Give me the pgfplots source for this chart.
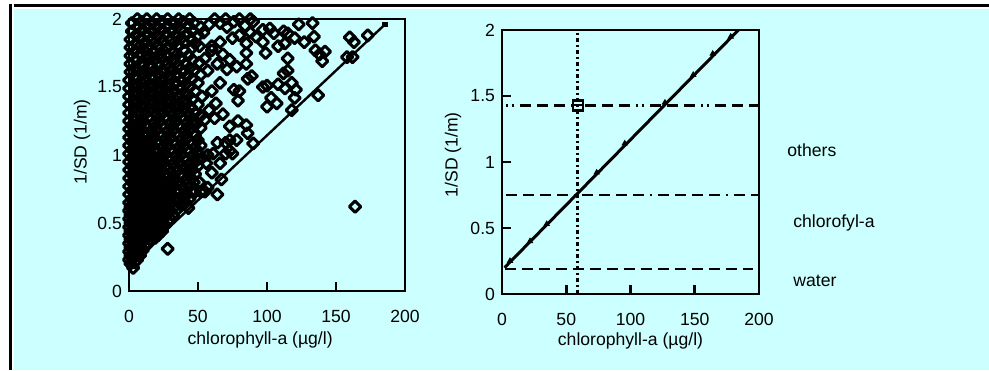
\documentclass[border=0pt]{standalone}
\usepackage{pgfplots}
\pgfplotsset{compat=1.18}
\usepackage{fontspec}
\setmainfont{Liberation Sans}
\definecolor{bgc}{RGB}{204,255,255}
\pgfplotsset{
  myaxis/.style={
    scale only axis, anchor=south west,
    xmin=0, xmax=200, ymin=0, ymax=2,
    xtick={0,50,100,150,200}, xticklabels={0,50,100,150,200},
    ytick={0,0.5,1,1.5,2}, yticklabels={0,0.5,1,1.5,2},
    xtick pos=bottom, ytick pos=left, tick align=inside,
    major tick length=4.5pt,
    axis line style={line width=1.3pt},
    tick style={line width=1.3pt, black},
    xticklabel style={yshift=-6pt, font=\fontsize{8.8}{10}\selectfont},
    yticklabel style={font=\fontsize{8.8}{10}\selectfont},
    label style={font=\fontsize{8.8}{10}\selectfont},
    xlabel={chlorophyll-a (µg/l)},
    ylabel={1/SD (1/m)},
  }
}
\begin{document}
\begin{tikzpicture}[font=\fontsize{8.8}{10}\selectfont]
\useasboundingbox (0,0) rectangle (494.5pt,185pt);
\fill[white] (0,0) rectangle (494.5pt,185pt);
\fill[bgc] (7pt,0) rectangle (494.5pt,180.5pt);
\fill[black] (4.5pt,0) rectangle (6pt,183pt);
\fill[black] (7pt,181.5pt) rectangle (494.5pt,183pt);

\begin{axis}[myaxis, at={(64.5pt,39.5pt)}, width=138pt, height=136pt,
  xlabel style={at={(axis description cs:0.475,-0.18)}, anchor=center},
  ylabel style={at={(axis description cs:-0.17,0.548)}, anchor=center}]
\addplot[only marks, mark=square, mark size=2pt,
  mark options={rotate=45, line width=1.5pt, black, line join=round}] coordinates {
(3,0.17) (1,0.20) (4,0.21)
(0,0.23) (3,0.24) (6,0.23)
(1,0.26) (5,0.27) (8,0.26)
(0,0.29) (3,0.30) (6,0.29) (10,0.30)
(1,0.32) (5,0.33) (8,0.32) (12,0.33) (28,0.31)
(0,0.35) (3,0.36) (7,0.35) (10,0.36) (14,0.35)
(1,0.38) (5,0.39) (8,0.38) (12,0.39) (16,0.38) (19,0.39)
(0,0.41) (3,0.42) (7,0.41) (10,0.42) (14,0.41) (18,0.42) (21,0.41)
(1,0.44) (5,0.45) (9,0.44) (12,0.45) (16,0.44) (20,0.45) (24,0.44)
(0,0.47) (3,0.48) (7,0.47) (11,0.48) (14,0.47) (18,0.48) (22,0.47) (26,0.48)
(1,0.50) (5,0.51) (9,0.50) (13,0.51) (16,0.50) (20,0.51) (24,0.50) (28,0.51)
(0,0.53) (3,0.54) (7,0.53) (11,0.54) (15,0.53) (18,0.54) (22,0.53) (26,0.54) (30,0.53)
(1,0.56) (5,0.57) (9,0.56) (13,0.57) (17,0.56) (20,0.57) (24,0.56) (28,0.57) (32,0.56)
(0,0.59) (3,0.60) (7,0.59) (11,0.60) (15,0.59) (19,0.60) (22,0.59) (26,0.60) (30,0.59) (35,0.60) (43,0.61)
(1,0.62) (5,0.63) (9,0.62) (13,0.63) (17,0.62) (21,0.63) (24,0.62) (28,0.63) (33,0.62) (38,0.63)
(0,0.65) (3,0.66) (7,0.65) (11,0.66) (15,0.65) (19,0.66) (23,0.65) (26,0.66) (30,0.65) (36,0.66) (41,0.65)
(2,0.68) (5,0.69) (9,0.68) (13,0.69) (17,0.68) (21,0.69) (25,0.68) (29,0.69) (33,0.68) (39,0.69) (44,0.68) (64,0.71)
(0,0.71) (4,0.72) (7,0.71) (11,0.72) (15,0.71) (19,0.72) (23,0.71) (27,0.72) (31,0.71) (36,0.72) (42,0.71) (47,0.72)
(2,0.74) (5,0.75) (9,0.74) (13,0.75) (17,0.74) (21,0.75) (25,0.74) (29,0.75) (34,0.74) (40,0.75) (46,0.74) (52,0.73) (55,0.73)
(0,0.77) (4,0.78) (7,0.77) (11,0.78) (15,0.77) (19,0.78) (23,0.77) (27,0.78) (32,0.77) (38,0.78) (44,0.77) (57,0.76)
(2,0.80) (6,0.81) (9,0.80) (13,0.81) (17,0.80) (21,0.81) (25,0.80) (30,0.81) (35,0.80) (41,0.81) (47,0.80) (51,0.80) (67,0.82)
(0,0.83) (4,0.84) (8,0.83) (11,0.84) (15,0.83) (19,0.84) (23,0.83) (28,0.84) (33,0.83) (39,0.84) (45,0.83)
(2,0.86) (6,0.87) (10,0.86) (13,0.87) (17,0.86) (21,0.87) (26,0.86) (31,0.87) (37,0.86) (43,0.87) (48,0.86) (60,0.87)
(0,0.89) (4,0.90) (8,0.89) (12,0.90) (15,0.89) (19,0.90) (24,0.89) (29,0.90) (35,0.89) (41,0.90) (46,0.89)
(2,0.92) (6,0.93) (10,0.92) (14,0.93) (17,0.92) (22,0.93) (27,0.92) (32,0.93) (38,0.92) (44,0.93) (50,0.92) (56,0.94) (66,0.94)
(0,0.95) (4,0.96) (8,0.95) (12,0.96) (16,0.95) (20,0.96) (25,0.95) (30,0.96) (36,0.95) (42,0.96) (48,0.95) (50,0.97)
(2,0.98) (6,0.99) (10,0.98) (14,0.99) (18,0.98) (23,0.99) (28,0.98) (34,0.99) (40,0.98) (46,0.99) (53,0.98) (61,1.01)
(0,1.01) (4,1.02) (8,1.01) (12,1.02) (16,1.01) (21,1.02) (26,1.01) (32,1.02) (38,1.01) (44,1.02) (50,1.01) (57,1.00) (70,1.01) (75,1.01)
(2,1.04) (6,1.05) (10,1.04) (14,1.05) (19,1.04) (24,1.05) (30,1.04) (36,1.05) (42,1.04) (48,1.05) (73,1.03)
(0,1.07) (4,1.08) (8,1.07) (12,1.08) (17,1.07) (22,1.08) (28,1.07) (34,1.08) (40,1.07) (46,1.08) (52,1.07) (64,1.09) (70,1.09)
(2,1.10) (6,1.11) (10,1.10) (15,1.11) (20,1.10) (26,1.11) (32,1.10) (38,1.11) (44,1.10) (50,1.11) (73,1.11) (78,1.11) (90,1.085)
(0,1.13) (4,1.14) (8,1.13) (13,1.14) (18,1.13) (24,1.14) (30,1.13) (36,1.14) (42,1.13) (48,1.14)
(2,1.16) (6,1.17) (11,1.16) (16,1.17) (22,1.16) (28,1.17) (34,1.16) (40,1.17) (46,1.16) (86,1.16)
(0,1.19) (4,1.20) (9,1.19) (14,1.20) (20,1.19) (26,1.20) (32,1.19) (38,1.20) (44,1.19) (52,1.20) (73,1.21) (85,1.22)
(2,1.22) (7,1.23) (12,1.22) (18,1.23) (24,1.22) (30,1.23) (36,1.22) (42,1.23) (48,1.22) (79,1.25)
(0,1.25) (5,1.26) (10,1.25) (16,1.26) (22,1.25) (28,1.26) (34,1.25) (40,1.26) (46,1.25) (55,1.26) (62,1.27)
(3,1.28) (8,1.29) (14,1.28) (20,1.29) (26,1.28) (32,1.29) (38,1.28) (44,1.29) (52,1.29) (68,1.30)
(0,1.31) (6,1.32) (12,1.31) (18,1.32) (24,1.31) (30,1.32) (36,1.31) (42,1.32) (48,1.31) (58,1.33)
(3,1.34) (9,1.35) (15,1.34) (21,1.35) (27,1.34) (33,1.35) (39,1.34) (45,1.35) (100,1.355) (107,1.38) (118,1.33)
(0,1.37) (6,1.38) (12,1.37) (18,1.38) (24,1.37) (30,1.38) (36,1.37) (42,1.38) (50,1.37) (63,1.38)
(3,1.40) (9,1.41) (15,1.40) (21,1.41) (27,1.40) (33,1.41) (39,1.40) (46,1.41) (79,1.40) (103,1.42) (120,1.42)
(0,1.43) (6,1.44) (12,1.43) (18,1.44) (24,1.43) (30,1.44) (36,1.43) (43,1.44) (53,1.43) (137,1.44)
(3,1.46) (9,1.47) (15,1.46) (21,1.47) (27,1.46) (33,1.47) (40,1.46) (48,1.47) (60,1.47) (76,1.48) (121,1.48) (113,1.49)
(0,1.49) (6,1.50) (12,1.49) (18,1.50) (24,1.49) (30,1.50) (37,1.49) (44,1.50) (80,1.47) (97,1.50) (100,1.51)
(3,1.52) (9,1.53) (15,1.52) (21,1.53) (27,1.52) (34,1.53) (41,1.52) (50,1.53) (108,1.52) (118,1.53) (66,1.53)
(0,1.55) (6,1.56) (12,1.55) (18,1.56) (24,1.55) (31,1.56) (38,1.55) (46,1.56) (86,1.56) (89,1.58)
(4,1.58) (10,1.59) (16,1.58) (22,1.59) (28,1.58) (35,1.59) (42,1.58) (52,1.59) (112,1.60) (115,1.62)
(1,1.61) (7,1.62) (13,1.61) (19,1.62) (25,1.61) (32,1.62) (39,1.61) (47,1.62) (71,1.63) (57,1.62)
(4,1.64) (10,1.65) (16,1.64) (22,1.65) (29,1.64) (36,1.65) (44,1.64) (64,1.67) (78,1.65) (85,1.67)
(1,1.67) (9,1.68) (15,1.67) (21,1.68) (27,1.67) (34,1.68) (41,1.67) (51,1.68)
(5,1.70) (12,1.71) (18,1.70) (24,1.71) (31,1.70) (38,1.71) (46,1.70) (73,1.70) (115,1.71) (140,1.69) (55,1.71)
(1,1.73) (8,1.74) (15,1.73) (22,1.74) (28,1.73) (35,1.74) (43,1.73) (68,1.74) (85,1.75) (99,1.75) (138,1.74) (158,1.72) (162,1.72)
(4,1.76) (11,1.77) (18,1.76) (25,1.77) (32,1.76) (40,1.77) (60,1.77) (135,1.77) (142,1.76)
(1,1.79) (8,1.80) (14,1.79) (21,1.80) (28,1.79) (36,1.80) (46,1.79) (51,1.80) (60,1.80) (108,1.80) (127,1.83)
(5,1.82) (12,1.83) (18,1.82) (25,1.83) (32,1.82) (40,1.83) (48,1.82) (66,1.83) (97,1.83) (113,1.82) (163,1.83) (85,1.82)
(1,1.85) (9,1.86) (16,1.85) (23,1.86) (30,1.85) (38,1.86) (45,1.85) (75,1.86) (92,1.87) (120,1.86) (134,1.87) (160,1.865)
(5,1.88) (13,1.89) (20,1.88) (27,1.89) (34,1.88) (42,1.89) (50,1.88) (54,1.90) (80,1.88) (88,1.90) (115,1.895) (173,1.88)
(2,1.91) (10,1.92) (17,1.91) (24,1.92) (31,1.91) (38,1.92) (46,1.91) (71,1.94) (97,1.92) (105,1.895) (112,1.91)
(6,1.94) (13,1.95) (20,1.94) (28,1.95) (35,1.94) (43,1.95) (52,1.94) (58,1.96) (66,1.97) (84,1.95) (102,1.93)
(2,1.97) (9,1.98) (17,1.97) (24,1.98) (32,1.97) (39,1.98) (47,1.97) (76,1.98) (90,1.98) (123,1.96) (133,1.97)
(6,2.00) (13,2.00) (20,2.00) (28,2.00) (36,2.00) (44,2.00) (62,2.00) (70,2.00) (80,2.00) (88,2.00)
(163.8,0.62)
};
\addplot[black, line width=1.2pt, mark=square*, mark size=0.8pt] coordinates {(0,0.19) (185.5,1.96)};
\end{axis}

\begin{axis}[myaxis, at={(251pt,38pt)}, width=128.5pt, height=132pt,
  xlabel style={at={(axis description cs:0.5,-0.178)}, anchor=center},
  ylabel style={at={(axis description cs:-0.19,0.527)}, anchor=center}]
\addplot[black, line width=1.4pt, dash pattern=on 2pt off 1.5pt on 1pt off 1.5pt] coordinates {(59,0) (59,2)};
\addplot[black, line width=1.4pt, dash pattern=on 5.5pt off 3pt] coordinates {(2,0.19) (195,0.19)};
\addplot[black, line width=1.4pt, dash pattern=on 5.5pt off 3pt on 5.5pt off 3pt on 5.5pt off 3pt on 5.5pt off 3pt on 1pt off 3pt] coordinates {(3,0.75) (199,0.75)};
\addplot[black, line width=1.4pt, dash pattern=on 1pt off 2pt on 1pt off 3pt on 5.5pt off 3pt on 5.5pt off 3pt on 5.5pt off 3pt] coordinates {(3,1.43) (199,1.43)};
\addplot[black, line width=1.5pt] coordinates {(2,0.2) (184,2.0)};
\addplot[only marks, mark=triangle*, mark size=1.5pt, black] coordinates {
(6.2,0.25) (21.8,0.40) (34.8,0.53) (73.7,0.92) (95.5,1.14) (126.8,1.45) (148.8,1.66) (164,1.82) (178,1.95)};
\addplot[only marks, mark=square, mark size=2.5pt, mark options={line width=1.3pt, black}] coordinates {(59,1.43)};
\addplot[only marks, mark=-, mark size=2pt, mark options={line width=1.2pt, black}] coordinates {(59,1.43)};
\end{axis}

\node[anchor=west, inner sep=0pt] at (393.5pt,110pt) {others};
\node[anchor=west, inner sep=0pt] at (396.5pt,73.5pt) {chlorofyl-a};
\node[anchor=west, inner sep=0pt] at (396.5pt,44.5pt) {water};
\end{tikzpicture}
\end{document}
